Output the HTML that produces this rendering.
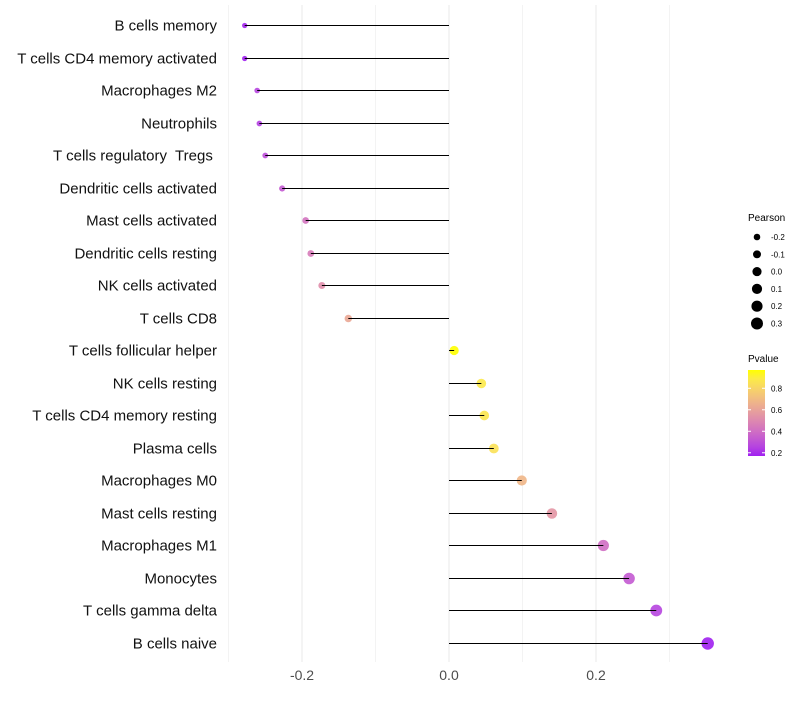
<!DOCTYPE html>
<html><head><meta charset="utf-8"><style>
body{margin:0;background:#fff;font-family:"Liberation Sans",sans-serif;}
.lbl{white-space:pre;}
</style></head><body>
<svg id="chart" width="800" height="700" xmlns="http://www.w3.org/2000/svg" font-family="Liberation Sans, sans-serif"></svg>
<script>
const categories=["B cells memory","T cells CD4 memory activated","Macrophages M2","Neutrophils","T cells regulatory  Tregs ","Dendritic cells activated","Mast cells activated","Dendritic cells resting","NK cells activated","T cells CD8","T cells follicular helper","NK cells resting","T cells CD4 memory resting","Plasma cells","Macrophages M0","Mast cells resting","Macrophages M1","Monocytes","T cells gamma delta","B cells naive"];
const pearson=[-0.278,-0.278,-0.261,-0.258,-0.250,-0.227,-0.195,-0.188,-0.173,-0.137,0.007,0.044,0.048,0.061,0.099,0.140,0.210,0.245,0.282,0.352];
const pvalue=[0.18,0.17,0.26,0.25,0.29,0.33,0.42,0.45,0.52,0.62,0.97,0.88,0.87,0.85,0.68,0.55,0.40,0.33,0.26,0.17];
const xTicks=[-0.2,0,0.2];
const xTickLabels=["-0.2","0.0","0.2"];
const sizeLegend=[-0.2,-0.1,0.0,0.1,0.2,0.3];
const colorLegend=[0.2,0.4,0.6,0.8];

const svg=document.getElementById('chart');
const NS="http://www.w3.org/2000/svg";
function mk(t,a,p){const e=document.createElementNS(NS,t);for(const k in a)e.setAttribute(k,a[k]);(p||svg).appendChild(e);return e;}
const x=v=>449+v*735;
const y=i=>Math.round(25+i*32.5)+0.5;
const rad=v=>Math.sqrt(Math.max(4,20.9+50.2*v));
const pMin=0.17,pMax=0.97;
function s2l(c){c/=255;return c<=0.04045?c/12.92:Math.pow((c+0.055)/1.055,2.4);}
function l2s(c){c=c<=0.0031308?12.92*c:1.055*Math.pow(c,1/2.4)-0.055;return Math.max(0,Math.min(255,Math.round(c*255)));}
function toLab(rgb){const [r,g,b]=rgb.map(s2l);
 let X=(0.4124*r+0.3576*g+0.1805*b)/0.95047,Y=0.2126*r+0.7152*g+0.0722*b,Z=(0.0193*r+0.1192*g+0.9505*b)/1.08883;
 const f=t=>t>0.008856?Math.cbrt(t):7.787*t+16/116;
 return [116*f(Y)-16,500*(f(X)-f(Y)),200*(f(Y)-f(Z))];}
function fromLab(l){const fy=(l[0]+16)/116,fx=fy+l[1]/500,fz=fy-l[2]/200;
 const fi=t=>t*t*t>0.008856?t*t*t:(t-16/116)/7.787;
 const X=fi(fx)*0.95047,Y=fi(fy),Z=fi(fz)*1.08883;
 const r=3.2406*X-1.5372*Y-0.4986*Z,g=-0.9689*X+1.8758*Y+0.0415*Z,b=0.0557*X-0.2040*Y+1.0570*Z;
 return [r,g,b].map(l2s);}
const LA=toLab([160,32,240]),LB=toLab([255,255,0]);
function col(p){const t=Math.max(0,Math.min(1,(p-pMin)/(pMax-pMin)));
 return `rgb(${fromLab(LA.map((c,i)=>c+(LB[i]-c)*t)).join(',')})`;}

[-0.3,-0.2,-0.1,0,0.1,0.2,0.3].forEach(g=>{
 const l=mk('line',{x1:x(g),x2:x(g),y1:5,y2:662,stroke:'#ebebeb','stroke-width':(Math.round(Math.abs(g*10))%2===0)?1.1:0.6});
 
 
});
xTicks.forEach((t,i)=>{
 const tx=mk('text',{x:x(t),y:680,'text-anchor':'middle','font-size':14,fill:'#4d4d4d'});
 tx.textContent=xTickLabels[i];
 
 
});
categories.forEach((c,i)=>{
 const lab=mk('text',{x:217,y:y(i)+5,'text-anchor':'end','font-size':15,fill:'#111',class:'lbl'});
 lab.textContent=c;
 
 
 const d=mk('circle',{cx:x(pearson[i]),cy:y(i),r:rad(pearson[i]),fill:col(pvalue[i]),'fill-opacity':0.9});
 
 
 const ln=mk('line',{x1:x(0),x2:x(pearson[i]),y1:y(i),y2:y(i),stroke:'#000','stroke-width':1});
 
 
});
const st=mk('text',{x:748,y:221,'font-size':10,fill:'#000'});st.textContent='Pearson';


sizeLegend.forEach((v,i)=>{
 const cy=237+i*17.3;
 const c=mk('circle',{cx:757,cy:cy,r:rad(v),fill:'#000'});
 
 
 const t=mk('text',{x:771,y:cy+3,'font-size':8,fill:'#000'});t.textContent=v.toFixed(1);
 
 
});
const ct=mk('text',{x:748,y:362,'font-size':10,fill:'#000'});ct.textContent='Pvalue';


const defs=mk('defs',{});
const lg=mk('linearGradient',{id:'pg',x1:0,y1:1,x2:0,y2:0},defs);
for(let k=0;k<=10;k++){mk('stop',{offset:k/10,'stop-color':col(pMin+(pMax-pMin)*k/10)},lg);}
const bar=mk('rect',{x:748,y:370,width:17,height:86,fill:'url(#pg)'});


const py=p=>456-(p-pMin)/(pMax-pMin)*86;
colorLegend.forEach(p=>{
 mk('line',{x1:748,x2:751,y1:py(p),y2:py(p),stroke:'#fff'});
 mk('line',{x1:762,x2:765,y1:py(p),y2:py(p),stroke:'#fff'});
 const t=mk('text',{x:771,y:py(p)+3,'font-size':8,fill:'#000'});t.textContent=p.toFixed(1);
 
 
});
</script>
</body></html>
